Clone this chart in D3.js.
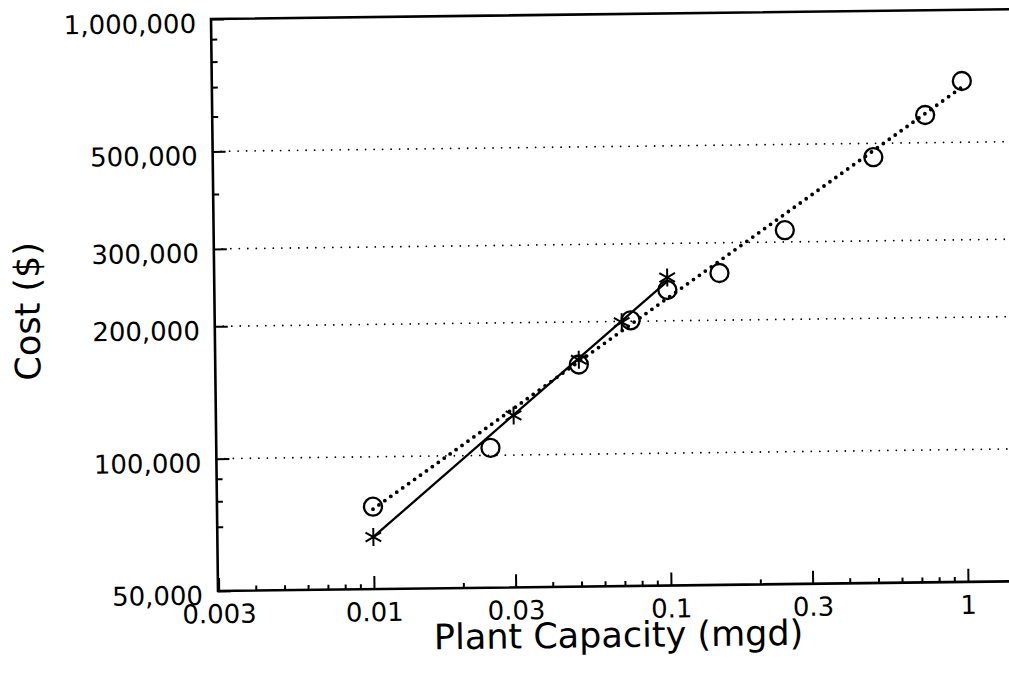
<!DOCTYPE html>
<html>
<head>
<meta charset="utf-8">
<script src="https://cdn.jsdelivr.net/npm/d3@7"></script>
<style>
  body { margin: 0; background: #fff; }
  svg { display: block; font-family: 'DejaVu Sans', sans-serif; }
  .tick text { font-family: 'DejaVu Sans', sans-serif; font-size: 26px; fill: #000; }
</style>
</head>
<body>
<div id="chart"></div>
<script>
// circles + dotted fit
const capCircles = [0.01, 0.025, 0.05, 0.075, 0.1, 0.15, 0.25, 0.5, 0.75, 1];
const costCircles = [77000, 104000, 160000, 201000, 235000, 256000, 319000, 465000, 578000, 689000];
const fitCircles = [[0.01, 76000], [1, 667000]];

// stars + solid fit
const capStars = [0.01, 0.03, 0.05, 0.07, 0.1];
const costStars = [65700, 123000, 164000, 199000, 251000];
const fitStars = [[0.01, 65700], [0.1, 246000]];

const xMajor = [0.003, 0.01, 0.03, 0.1, 0.3, 1];
const xLabels = ['0.003', '0.01', '0.03', '0.1', '0.3', '1'];
const xMinor = [0.004, 0.005, 0.006, 0.007, 0.008, 0.009, 0.02,
  0.04, 0.05, 0.06, 0.07, 0.08, 0.09, 0.2, 0.4, 0.5, 0.6, 0.7, 0.8, 0.9];
const yMajor = [50000, 100000, 200000, 300000, 500000, 1000000];
const yMinor = [70000, 80000, 90000, 400000, 600000, 700000, 800000, 900000];
const yGrid = [100000, 200000, 300000, 500000];

const width = 1009;
const height = 673;
const mLeft = 218;
const mRight = 1040;
const mTop = 19;
const mBottom = 591;

const svg = d3.select('#chart').append('svg')
  .attr('width', width)
  .attr('height', height);

// the scanned page is tilted a little
const g = svg.append('g')
  .attr('transform', `rotate(-0.7, ${mLeft}, ${mBottom})`);

let x = d3.scaleLog().domain([0.01, 1]).range([374, 968]);
x = x.domain([x.invert(mLeft), x.invert(mRight)]).range([mLeft, mRight]);
const y = d3.scaleLog().domain([50000, 1000000]).range([mBottom, mTop]);

g.selectAll('.grid')
  .data(yGrid)
  .enter().append('line')
    .attr('class', 'grid')
    .attr('x1', mLeft)
    .attr('x2', mRight)
    .attr('y1', d => y(d))
    .attr('y2', d => y(d))
    .attr('stroke', '#000')
    .attr('stroke-width', 1.8)
    .attr('stroke-linecap', 'round')
    .attr('stroke-dasharray', '0 8.5');

const line = d3.line()
  .x(d => x(d[0]))
  .y(d => y(d[1]));

g.append('path')
  .datum(fitCircles)
  .attr('d', line)
  .attr('fill', 'none')
  .attr('stroke', '#000')
  .attr('stroke-width', 3.8)
  .attr('stroke-linecap', 'round')
  .attr('stroke-dasharray', '0 7.3');

g.append('path')
  .datum(fitStars)
  .attr('d', line)
  .attr('fill', 'none')
  .attr('stroke', '#000')
  .attr('stroke-width', 2.3);

g.selectAll('.circ')
  .data(capCircles)
  .enter().append('circle')
    .attr('class', 'circ')
    .attr('cx', d => x(d))
    .attr('cy', (d, i) => y(costCircles[i]))
    .attr('r', 9)
    .attr('fill', 'none')
    .attr('stroke', '#000')
    .attr('stroke-width', 2.3);

const star = d3.symbol().type(d3.symbolAsterisk).size(229);
g.selectAll('.star')
  .data(capStars)
  .enter().append('path')
    .attr('class', 'star')
    .attr('d', star)
    .attr('transform', (d, i) => `translate(${x(d)}, ${y(costStars[i])})`)
    .attr('fill', 'none')
    .attr('stroke', '#000')
    .attr('stroke-width', 2);

// axes
const xAxis = g.append('g')
  .attr('transform', `translate(0, ${mBottom})`)
  .call(d3.axisBottom(x).tickValues(xMajor).tickSize(-13)
    .tickFormat((d, i) => xLabels[i]));
xAxis.selectAll('.tick text').attr('y', 32).attr('dy', null);

g.append('g')
  .attr('transform', `translate(0, ${mBottom})`)
  .call(d3.axisBottom(x).tickValues(xMinor).tickSize(-5).tickFormat(''));

const yAxis = g.append('g')
  .attr('transform', `translate(${mLeft}, 0)`)
  .call(d3.axisLeft(y).tickValues(yMajor).tickSize(-13).tickPadding(15)
    .tickFormat(d3.format(',')));
yAxis.selectAll('.tick text').attr('y', 13).attr('dy', null);

g.append('g')
  .attr('transform', `translate(${mLeft}, 0)`)
  .call(d3.axisLeft(y).tickValues(yMinor).tickSize(-6).tickFormat(''));

g.selectAll('.domain').remove();
g.selectAll('.tick line').attr('stroke', '#000').attr('stroke-width', 2);

g.append('path')
  .attr('d', `M${mRight},${mTop}H${mLeft}V${mBottom}H${mRight}`)
  .attr('fill', 'none')
  .attr('stroke', '#000')
  .attr('stroke-width', 2.6);

g.append('text')
  .attr('x', 618)
  .attr('y', 652)
  .attr('text-anchor', 'middle')
  .style('font-size', '35px')
  .text('Plant Capacity (mgd)');

g.append('text')
  .attr('transform', 'translate(43, 309) rotate(-90)')
  .attr('text-anchor', 'middle')
  .style('font-size', '35px')
  .text('Cost ($)');
</script>
</body>
</html>
